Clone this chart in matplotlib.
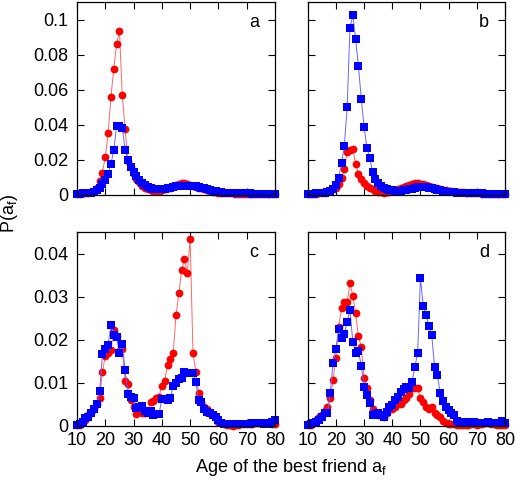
import numpy as np
import matplotlib
matplotlib.use('Agg')
from matplotlib import pyplot as plt
from matplotlib.ticker import FuncFormatter

plt.rcParams['font.family'] = ['Liberation Sans', 'DejaVu Sans']
plt.rcParams['mathtext.fontset'] = 'custom'
plt.rcParams['mathtext.rm'] = 'Liberation Sans'
plt.rcParams['mathtext.it'] = 'Liberation Sans'

ages = np.arange(10, 81)

red_a = [0.0005, 0.0005, 0.0006, 0.0008, 0.001, 0.0015, 0.002, 0.004, 0.0075, 0.0125,
         0.0215, 0.035, 0.0557, 0.072, 0.086, 0.0935, 0.057, 0.0377, 0.019, 0.0155,
         0.012, 0.009, 0.007, 0.005, 0.004, 0.003, 0.0025, 0.002, 0.002, 0.002,
         0.0025, 0.003, 0.0035, 0.004, 0.0048, 0.0055, 0.006, 0.0065, 0.0065, 0.006,
         0.0055, 0.005, 0.0045, 0.004, 0.0035, 0.003, 0.0025, 0.002, 0.0015, 0.0012,
         0.001, 0.0009, 0.0008, 0.0007, 0.0006, 0.0006, 0.0005, 0.0005, 0.0005, 0.0004,
         0.0004, 0.0004, 0.0004, 0.0003, 0.0003, 0.0003, 0.0003, 0.0003, 0.0003, 0.0003, 0.0003]
blue_a = [0.0005, 0.0005, 0.0006, 0.0007, 0.0008, 0.001, 0.0015, 0.0025, 0.004, 0.006,
          0.0083, 0.012, 0.0174, 0.0255, 0.039, 0.039, 0.038, 0.0255, 0.0198, 0.016,
          0.013, 0.0105, 0.0085, 0.0068, 0.0055, 0.0045, 0.0038, 0.0033, 0.003, 0.003,
          0.003, 0.0032, 0.0035, 0.004, 0.0043, 0.0046, 0.0048, 0.005, 0.005, 0.005,
          0.005, 0.005, 0.0048, 0.0045, 0.004, 0.0035, 0.003, 0.0026, 0.0022, 0.0018,
          0.0015, 0.0013, 0.0011, 0.001, 0.0009, 0.0008, 0.0008, 0.0007, 0.0007, 0.0006,
          0.0006, 0.0006, 0.0005, 0.0005, 0.0005, 0.0005, 0.0005, 0.0005, 0.0005, 0.0005, 0.0005]

red_b = [0.0003, 0.0003, 0.0004, 0.0005, 0.0006, 0.0008, 0.001, 0.0015, 0.002, 0.003,
         0.004, 0.006, 0.0092, 0.0143, 0.0244, 0.0255, 0.026, 0.0176, 0.012, 0.0089,
         0.0068, 0.005, 0.004, 0.003, 0.002, 0.0015, 0.0012, 0.001, 0.0012, 0.0015,
         0.002, 0.0025, 0.003, 0.0038, 0.0045, 0.005, 0.0055, 0.006, 0.0065, 0.0065,
         0.006, 0.0058, 0.0055, 0.005, 0.0045, 0.004, 0.0035, 0.003, 0.0028, 0.0025,
         0.002, 0.0018, 0.0015, 0.0015, 0.0014, 0.0012, 0.001, 0.0009, 0.0008, 0.0007,
         0.0006, 0.0006, 0.0005, 0.0005, 0.0005, 0.0004, 0.0004, 0.0004, 0.0004, 0.0004, 0.0004]
blue_b = [0.0005, 0.0005, 0.0005, 0.0006, 0.0007, 0.0008, 0.001, 0.0015, 0.002, 0.003,
          0.0055, 0.0096, 0.0178, 0.0278, 0.050, 0.0953, 0.1025, 0.089, 0.0732, 0.0548,
          0.0385, 0.0267, 0.021, 0.013, 0.009, 0.0065, 0.005, 0.004, 0.0032, 0.0027,
          0.0024, 0.0022, 0.0022, 0.0022, 0.0024, 0.0027, 0.003, 0.0034, 0.0038, 0.0042,
          0.0045, 0.0045, 0.0043, 0.004, 0.0036, 0.0032, 0.0028, 0.0024, 0.002, 0.0017,
          0.0015, 0.0013, 0.0012, 0.0011, 0.001, 0.0009, 0.0008, 0.0008, 0.0007, 0.0007,
          0.0006, 0.0006, 0.0006, 0.0005, 0.0005, 0.0005, 0.0005, 0.0005, 0.0005, 0.0005, 0.0005]

red_c = [0.0002, 0.0003, 0.001, 0.0015, 0.0025, 0.003, 0.004, 0.005, 0.0065, 0.0126,
         0.0163, 0.017, 0.0177, 0.0223, 0.021, 0.0175, 0.0178, 0.0105, 0.0098, 0.006,
         0.0045, 0.0028, 0.0032, 0.003, 0.003, 0.0035, 0.0055, 0.0058, 0.0065, 0.0068,
         0.0094, 0.0105, 0.0142, 0.0156, 0.0169, 0.0257, 0.0308, 0.0362, 0.0388, 0.0355,
         0.0435, 0.017, 0.0126, 0.0076, 0.0055, 0.0045, 0.004, 0.003, 0.0025, 0.002,
         0.001, 0.0008, 0.0004, 0.0002, 0.0002, 0.0001, 0.0003, 0.0003, 0.0004, 0.0004,
         0.0004, 0.0005, 0.0005, 0.0006, 0.0006, 0.0007, 0.0008, 0.0007, 0.0006, 0.0005, 0.0004]
blue_c = [0.0002, 0.0005, 0.001, 0.0018, 0.0022, 0.003, 0.004, 0.005, 0.0081, 0.0167,
          0.018, 0.0188, 0.0235, 0.0212, 0.0206, 0.017, 0.019, 0.013, 0.0074, 0.0068,
          0.0064, 0.0041, 0.0045, 0.0047, 0.0035, 0.003, 0.0035, 0.0025, 0.0028, 0.0028,
          0.0063, 0.0062, 0.006, 0.0065, 0.0093, 0.0101, 0.011, 0.0112, 0.0126, 0.0124,
          0.0124, 0.0122, 0.0103, 0.006, 0.0055, 0.004, 0.0032, 0.003, 0.0025, 0.002,
          0.0015, 0.0008, 0.0005, 0.0004, 0.0004, 0.0004, 0.0005, 0.0004, 0.0005, 0.0005,
          0.0005, 0.0005, 0.0006, 0.0008, 0.0008, 0.0008, 0.0005, 0.0006, 0.0004, 0.001, 0.0015]

red_d = [0.0002, 0.0003, 0.0008, 0.0015, 0.002, 0.0025, 0.0035, 0.0045, 0.0065, 0.0107,
         0.0159, 0.0231, 0.0274, 0.0288, 0.0288, 0.0332, 0.0302, 0.0262, 0.0208, 0.0184,
         0.0111, 0.0088, 0.006, 0.004, 0.003, 0.0025, 0.0025, 0.002, 0.003, 0.004,
         0.004, 0.0045, 0.005, 0.0052, 0.006, 0.0065, 0.0075, 0.0088, 0.0088, 0.0088,
         0.0065, 0.0055, 0.0045, 0.004, 0.0045, 0.003, 0.0025, 0.002, 0.0012, 0.0008,
         0.0005, 0.0004, 0.0004, 0.0003, 0.0003, 0.0003, 0.0003, 0.0003, 0.0004, 0.0004,
         0.0003, 0.0004, 0.0005, 0.0008, 0.0007, 0.0004, 0.0004, 0.0003, 0.0003, 0.0003, 0.0003]
blue_d = [0.0002, 0.0004, 0.0006, 0.001, 0.0015, 0.002, 0.003, 0.0031, 0.0076, 0.0147,
          0.018, 0.0226, 0.0204, 0.0214, 0.0241, 0.027, 0.0196, 0.0169, 0.0175, 0.014,
          0.009, 0.0071, 0.0053, 0.0026, 0.0028, 0.003, 0.0025, 0.0022, 0.0032, 0.0045,
          0.0048, 0.006, 0.0068, 0.0078, 0.0085, 0.009, 0.0088, 0.0103, 0.0137, 0.0169,
          0.0344, 0.0278, 0.0258, 0.0232, 0.0212, 0.0138, 0.0118, 0.0077, 0.0058, 0.0045,
          0.0037, 0.003, 0.0025, 0.0012, 0.001, 0.001, 0.0009, 0.0008, 0.0008, 0.0009,
          0.0008, 0.0008, 0.0007, 0.0008, 0.0009, 0.0008, 0.0007, 0.0008, 0.0007, 0.0012, 0.0008]

panels = [('a', red_a, blue_a), ('b', red_b, blue_b), ('c', red_c, blue_c), ('d', red_d, blue_d)]

fig = plt.figure(figsize=(5.16, 4.83), dpi=100)
W, H = 516.0, 483.0
# panel boxes in pixels: left, top, right, bottom
boxes = {'a': (77, 2, 275, 194.5), 'b': (307.7, 2, 505, 194.5),
         'c': (77, 232.3, 275, 426), 'd': (307.7, 232.3, 505, 426)}

fmt = FuncFormatter(lambda v, pos: '%g' % round(v, 4))
fs = 13

for name, red, blue in panels:
    x0, y0, x1, y1 = boxes[name]
    ax = fig.add_axes([x0 / W, 1 - y1 / H, (x1 - x0) / W, (y1 - y0) / H])
    ax.plot(ages, red, '-', color='#ff6666', lw=0.7)
    ax.plot(ages, red, 'o', color='red', ms=5.6, mew=0, clip_on=False)
    ax.plot(ages, blue, '-', color='#6666ff', lw=0.7)
    ax.plot(ages, blue, 's', color='blue', ms=5.4, mew=0, clip_on=False)
    ax.set_xlim(10, 80)
    ax.set_xticks(range(10, 81, 10))
    if name in 'ab':
        ax.set_ylim(0, 0.11)
        ax.set_yticks([0, 0.02, 0.04, 0.06, 0.08, 0.1])
    else:
        ax.set_ylim(0, 0.045)
        ax.set_yticks([0, 0.01, 0.02, 0.03, 0.04])
    ax.yaxis.set_major_formatter(fmt)
    ax.tick_params(direction='in', top=True, right=True, length=5, width=0.8,
                   labelsize=fs, pad=6)
    ax.tick_params(axis='x', pad=4)
    if name in 'ab':
        ax.tick_params(labelbottom=False)
    if name in 'bd':
        ax.tick_params(labelleft=False)
    for s in ax.spines.values():
        s.set_linewidth(0.9)
    ax.text(0.895, 0.895, name, transform=ax.transAxes, fontsize=fs,
            ha='center', va='center')

fig.text(291 / W, 1 - 467 / H, 'Age of the best friend a$_\\mathrm{f}$', ha='center',
         va='center', fontsize=fs)
fig.text(9 / W, 1 - 213 / H, 'P(a$_\\mathrm{f}$)', ha='center', va='center',
         rotation=90, fontsize=fs)

plt.savefig('out.png', dpi=100)
